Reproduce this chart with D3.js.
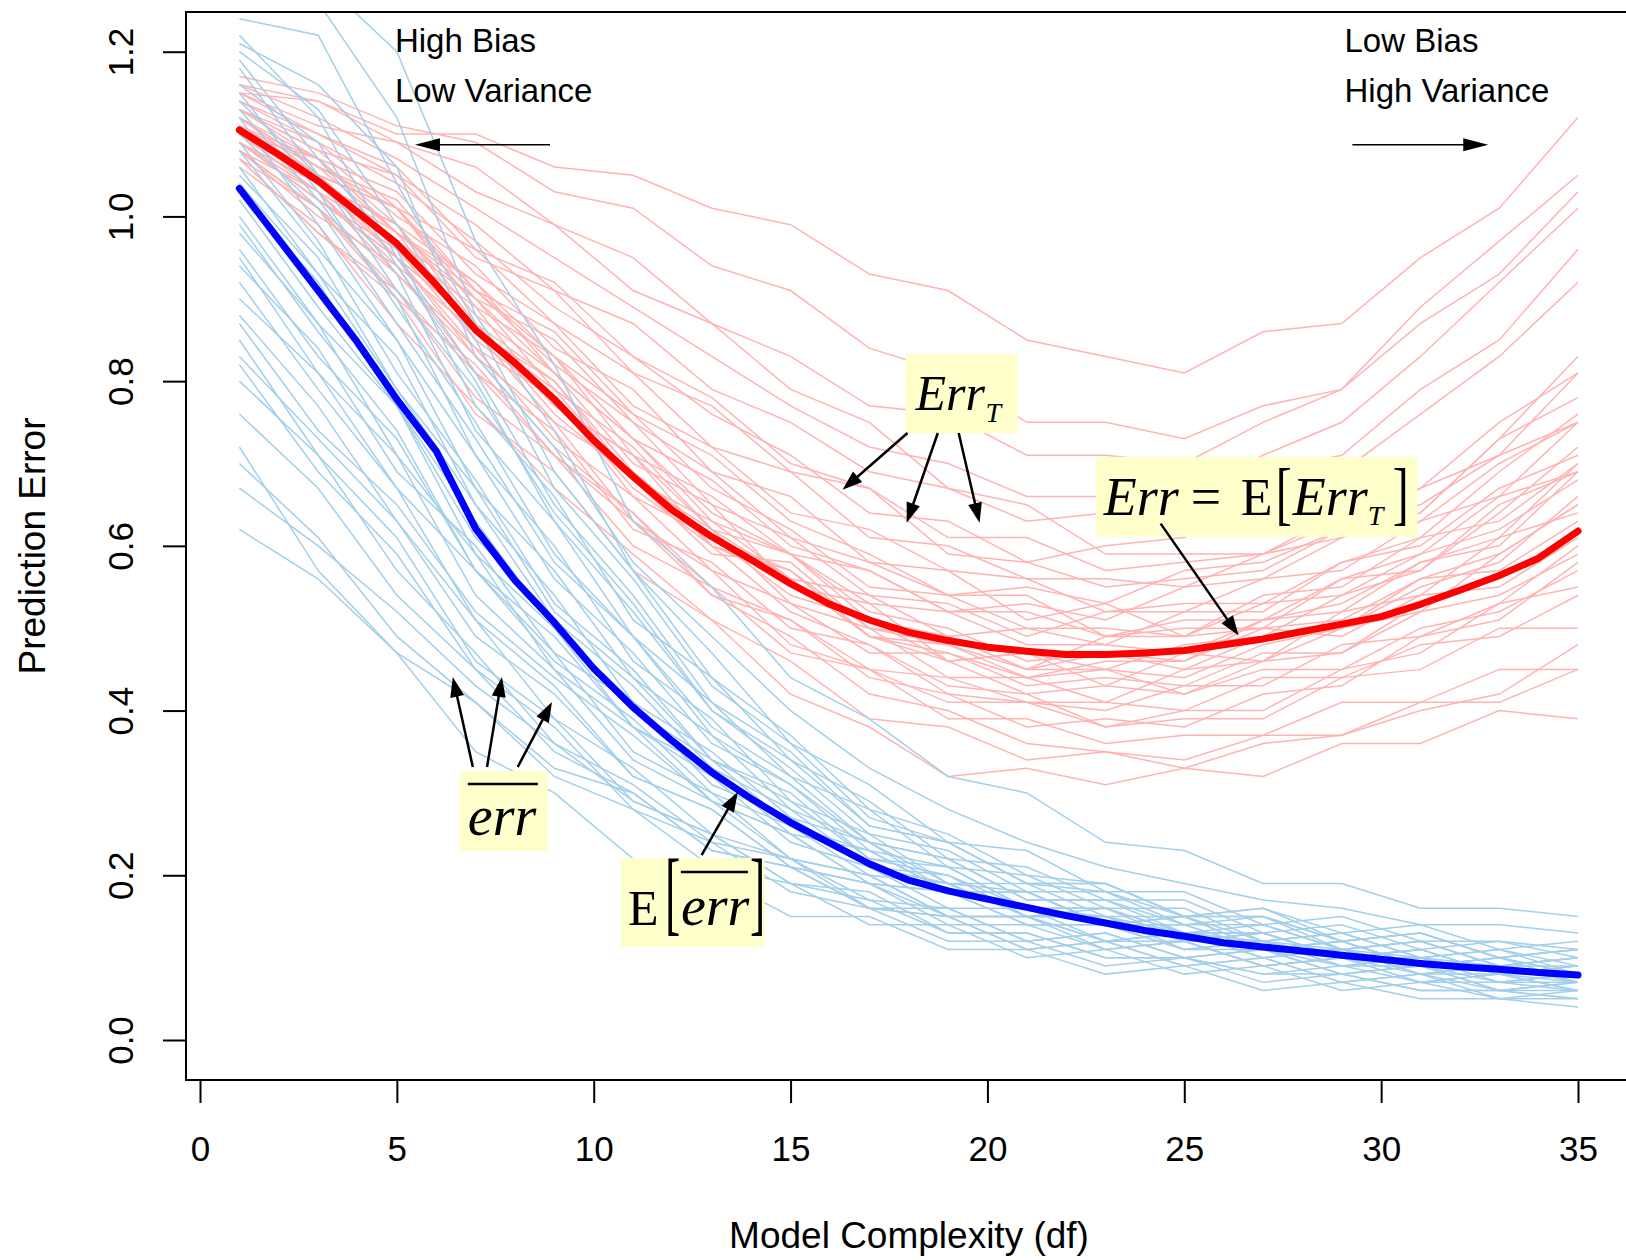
<!DOCTYPE html>
<html>
<head>
<meta charset="utf-8">
<script src="https://cdn.jsdelivr.net/npm/d3@7"></script>
<style>
  body { margin: 0; background: #fff; }
  svg { display: block; }
</style>
</head>
<body>
<div id="chart"></div>
<script>
var w = 1626;
var h = 1260;

// model complexity (df) for the two mean curves
var dfs = [1, 2, 3, 4, 5, 6, 7, 8, 9, 10, 11, 12, 13, 14, 15, 16, 17, 18, 19, 20,
  21, 22, 23, 24, 25, 26, 27, 28, 29, 30, 31, 32, 33, 34, 35];

// expected test error  Err = E[Err_T]  (thick red)
var errMean = [1.105, 1.075, 1.043, 1.005, 0.967, 0.917, 0.862, 0.822, 0.778, 0.728,
  0.684, 0.643, 0.611, 0.583, 0.554, 0.529, 0.510, 0.495, 0.485, 0.477,
  0.472, 0.468, 0.468, 0.470, 0.473, 0.480, 0.487, 0.496, 0.505, 0.514,
  0.529, 0.546, 0.564, 0.585, 0.618];

// expected training error  E[err]  (thick blue)
var trainMean = [1.034, 0.972, 0.910, 0.847, 0.778, 0.715, 0.621, 0.558, 0.507, 0.451,
  0.404, 0.363, 0.325, 0.293, 0.264, 0.239, 0.214, 0.194, 0.181, 0.171,
  0.161, 0.151, 0.142, 0.133, 0.126, 0.118, 0.113, 0.108, 0.103, 0.098,
  0.093, 0.089, 0.086, 0.082, 0.079];

// df values at which the single training-set curves are read
var knots = [1, 3, 5, 7, 9, 11, 13, 15, 17, 19, 21, 23, 25, 27, 29, 31, 33, 35];

// conditional test error Err_T, one row per training sample (light red)
var testCurves = [
  [1.10, 1.04, 0.99, 0.87, 0.80, 0.69, 0.60, 0.57, 0.50, 0.49, 0.45, 0.47, 0.46, 0.50, 0.49, 0.54, 0.55, 0.61],
  [1.13, 1.09, 1.01, 0.96, 0.87, 0.81, 0.72, 0.69, 0.61, 0.60, 0.56, 0.56, 0.55, 0.59, 0.61, 0.67, 0.71, 0.81],
  [1.08, 1.01, 0.91, 0.81, 0.71, 0.63, 0.54, 0.51, 0.45, 0.44, 0.41, 0.41, 0.40, 0.44, 0.44, 0.48, 0.49, 0.54],
  [1.15, 1.10, 1.05, 0.99, 0.91, 0.87, 0.79, 0.75, 0.69, 0.67, 0.63, 0.64, 0.64, 0.69, 0.71, 0.79, 0.85, 0.96],
  [1.09, 1.02, 0.95, 0.83, 0.75, 0.63, 0.57, 0.48, 0.45, 0.39, 0.39, 0.36, 0.37, 0.37, 0.41, 0.41, 0.45, 0.45],
  [1.11, 1.07, 0.98, 0.91, 0.82, 0.75, 0.65, 0.61, 0.54, 0.53, 0.49, 0.52, 0.52, 0.56, 0.57, 0.63, 0.66, 0.75],
  [1.16, 1.14, 1.09, 1.06, 0.99, 0.95, 0.87, 0.83, 0.77, 0.76, 0.71, 0.71, 0.70, 0.75, 0.79, 0.89, 0.97, 1.05],
  [1.07, 0.98, 0.91, 0.78, 0.71, 0.60, 0.55, 0.47, 0.45, 0.41, 0.41, 0.40, 0.43, 0.43, 0.48, 0.49, 0.53, 0.55],
  [1.10, 1.05, 0.95, 0.87, 0.76, 0.68, 0.59, 0.58, 0.50, 0.48, 0.45, 0.49, 0.49, 0.50, 0.51, 0.56, 0.59, 0.65],
  [1.12, 1.06, 1.02, 0.91, 0.86, 0.76, 0.71, 0.63, 0.59, 0.54, 0.54, 0.49, 0.50, 0.50, 0.56, 0.57, 0.65, 0.69],
  [1.06, 0.99, 0.87, 0.77, 0.67, 0.59, 0.51, 0.46, 0.39, 0.38, 0.34, 0.35, 0.34, 0.37, 0.37, 0.41, 0.41, 0.45],
  [1.13, 1.08, 1.05, 0.95, 0.91, 0.81, 0.77, 0.69, 0.67, 0.61, 0.61, 0.57, 0.58, 0.59, 0.64, 0.67, 0.75, 0.81],
  [1.09, 1.03, 0.94, 0.86, 0.75, 0.69, 0.61, 0.57, 0.49, 0.47, 0.43, 0.44, 0.43, 0.47, 0.47, 0.52, 0.54, 0.59],
  [1.15, 1.11, 1.09, 1.03, 0.99, 0.91, 0.87, 0.79, 0.75, 0.67, 0.65, 0.59, 0.59, 0.59, 0.63, 0.65, 0.71, 0.75],
  [1.10, 1.04, 0.98, 0.86, 0.80, 0.68, 0.62, 0.53, 0.50, 0.44, 0.44, 0.41, 0.45, 0.46, 0.50, 0.52, 0.59, 0.65],
  [1.11, 1.05, 0.97, 0.90, 0.79, 0.72, 0.62, 0.59, 0.53, 0.52, 0.48, 0.48, 0.47, 0.51, 0.53, 0.58, 0.60, 0.69],
  [1.08, 1.00, 0.94, 0.81, 0.74, 0.62, 0.58, 0.50, 0.48, 0.43, 0.42, 0.38, 0.39, 0.39, 0.44, 0.45, 0.50, 0.50],
  [1.17, 1.15, 1.11, 1.09, 1.03, 1.01, 0.94, 0.91, 0.84, 0.81, 0.75, 0.75, 0.73, 0.77, 0.79, 0.87, 0.93, 1.03],
  [1.10, 1.07, 0.98, 0.92, 0.81, 0.73, 0.63, 0.59, 0.51, 0.49, 0.45, 0.45, 0.44, 0.48, 0.50, 0.56, 0.57, 0.63],
  [1.12, 1.05, 1.01, 0.90, 0.85, 0.75, 0.69, 0.61, 0.58, 0.54, 0.55, 0.53, 0.57, 0.58, 0.62, 0.63, 0.70, 0.75],
  [1.07, 1.01, 0.90, 0.82, 0.71, 0.64, 0.55, 0.51, 0.44, 0.42, 0.38, 0.39, 0.38, 0.42, 0.43, 0.49, 0.51, 0.58],
  [1.13, 1.07, 1.03, 0.93, 0.87, 0.77, 0.72, 0.64, 0.62, 0.57, 0.56, 0.52, 0.53, 0.53, 0.58, 0.60, 0.67, 0.71],
  [1.09, 1.04, 0.95, 0.87, 0.77, 0.71, 0.62, 0.56, 0.49, 0.48, 0.44, 0.46, 0.46, 0.51, 0.52, 0.58, 0.61, 0.70],
  [1.11, 1.05, 1.01, 0.91, 0.83, 0.71, 0.66, 0.59, 0.57, 0.52, 0.52, 0.49, 0.51, 0.51, 0.56, 0.59, 0.66, 0.69],
  [1.15, 1.14, 1.10, 1.10, 1.06, 1.05, 1.01, 0.99, 0.93, 0.91, 0.85, 0.83, 0.81, 0.86, 0.87, 0.95, 1.01, 1.12],
  [1.10, 1.03, 0.97, 0.86, 0.79, 0.68, 0.63, 0.56, 0.54, 0.49, 0.50, 0.48, 0.52, 0.52, 0.58, 0.61, 0.69, 0.76],
  [1.08, 1.03, 0.93, 0.84, 0.73, 0.66, 0.57, 0.53, 0.47, 0.47, 0.44, 0.45, 0.42, 0.45, 0.45, 0.50, 0.52, 0.57],
  [1.12, 1.06, 1.01, 0.89, 0.83, 0.73, 0.68, 0.60, 0.57, 0.52, 0.53, 0.51, 0.55, 0.56, 0.61, 0.64, 0.73, 0.83],
  [1.07, 0.98, 0.90, 0.76, 0.69, 0.57, 0.51, 0.42, 0.38, 0.32, 0.33, 0.31, 0.33, 0.32, 0.36, 0.36, 0.40, 0.39],
  [1.14, 1.09, 1.04, 0.97, 0.89, 0.83, 0.76, 0.71, 0.64, 0.63, 0.58, 0.60, 0.61, 0.66, 0.69, 0.76, 0.83, 0.92],
  [1.09, 1.02, 0.96, 0.85, 0.78, 0.67, 0.60, 0.52, 0.48, 0.42, 0.41, 0.38, 0.40, 0.40, 0.45, 0.47, 0.53, 0.60],
  [1.13, 1.08, 1.00, 0.94, 0.84, 0.79, 0.69, 0.66, 0.58, 0.57, 0.51, 0.53, 0.49, 0.54, 0.55, 0.61, 0.63, 0.70],
  [1.11, 1.04, 0.99, 0.88, 0.81, 0.70, 0.65, 0.55, 0.53, 0.46, 0.47, 0.43, 0.47, 0.46, 0.52, 0.54, 0.61, 0.64],
  [1.16, 1.12, 1.07, 1.01, 0.95, 0.89, 0.83, 0.77, 0.72, 0.70, 0.66, 0.66, 0.66, 0.71, 0.75, 0.83, 0.92, 1.01],
  [1.08, 1.01, 0.93, 0.83, 0.72, 0.64, 0.54, 0.49, 0.42, 0.40, 0.36, 0.35, 0.33, 0.36, 0.37, 0.40, 0.42, 0.48],
  [1.12, 1.07, 0.99, 0.92, 0.83, 0.76, 0.67, 0.62, 0.55, 0.54, 0.50, 0.50, 0.49, 0.53, 0.54, 0.59, 0.62, 0.68],
  [1.10, 1.05, 0.96, 0.89, 0.77, 0.71, 0.60, 0.56, 0.49, 0.46, 0.42, 0.43, 0.42, 0.46, 0.47, 0.53, 0.56, 0.62],
  [1.14, 1.10, 1.06, 0.96, 0.92, 0.83, 0.78, 0.70, 0.67, 0.59, 0.58, 0.55, 0.56, 0.57, 0.62, 0.64, 0.73, 0.78],
  [1.09, 1.02, 0.95, 0.84, 0.78, 0.66, 0.61, 0.54, 0.51, 0.46, 0.47, 0.45, 0.48, 0.49, 0.54, 0.57, 0.64, 0.72],
  [1.11, 1.06, 0.98, 0.90, 0.81, 0.73, 0.64, 0.59, 0.52, 0.50, 0.46, 0.47, 0.45, 0.49, 0.50, 0.55, 0.58, 0.66]
];

// training error err-bar, one row per training sample (light blue)
var trainCurves = [
  [1.03, 0.92, 0.77, 0.63, 0.50, 0.41, 0.31, 0.27, 0.21, 0.19, 0.15, 0.15, 0.12, 0.12, 0.10, 0.10, 0.08, 0.08],
  [1.22, 1.12, 0.95, 0.81, 0.65, 0.54, 0.41, 0.35, 0.26, 0.24, 0.19, 0.19, 0.15, 0.15, 0.12, 0.13, 0.10, 0.11],
  [0.85, 0.71, 0.61, 0.46, 0.39, 0.29, 0.25, 0.19, 0.17, 0.13, 0.13, 0.10, 0.10, 0.08, 0.09, 0.07, 0.07, 0.06],
  [1.15, 1.03, 0.89, 0.75, 0.59, 0.49, 0.37, 0.31, 0.24, 0.22, 0.17, 0.17, 0.14, 0.14, 0.11, 0.12, 0.09, 0.10],
  [0.95, 0.81, 0.71, 0.54, 0.45, 0.34, 0.29, 0.22, 0.20, 0.15, 0.15, 0.12, 0.12, 0.09, 0.10, 0.08, 0.08, 0.07],
  [1.27, 1.26, 1.12, 0.88, 0.74, 0.57, 0.47, 0.36, 0.31, 0.24, 0.23, 0.18, 0.18, 0.14, 0.15, 0.12, 0.12, 0.11],
  [0.70, 0.61, 0.49, 0.41, 0.32, 0.28, 0.21, 0.19, 0.14, 0.14, 0.10, 0.11, 0.08, 0.09, 0.06, 0.07, 0.05, 0.05],
  [1.08, 0.96, 0.85, 0.67, 0.57, 0.44, 0.37, 0.28, 0.24, 0.18, 0.18, 0.14, 0.15, 0.11, 0.12, 0.09, 0.10, 0.08],
  [0.90, 0.81, 0.67, 0.57, 0.46, 0.39, 0.30, 0.26, 0.20, 0.19, 0.15, 0.15, 0.11, 0.12, 0.09, 0.10, 0.07, 0.08],
  [1.18, 1.05, 0.93, 0.74, 0.63, 0.49, 0.41, 0.32, 0.28, 0.21, 0.20, 0.16, 0.16, 0.12, 0.13, 0.10, 0.11, 0.09],
  [1.00, 0.87, 0.71, 0.59, 0.45, 0.38, 0.29, 0.25, 0.19, 0.18, 0.14, 0.14, 0.11, 0.12, 0.09, 0.10, 0.07, 0.08],
  [0.62, 0.56, 0.47, 0.41, 0.33, 0.30, 0.23, 0.21, 0.16, 0.16, 0.12, 0.13, 0.10, 0.11, 0.08, 0.09, 0.06, 0.07],
  [1.12, 0.99, 0.85, 0.71, 0.56, 0.47, 0.36, 0.31, 0.23, 0.21, 0.16, 0.16, 0.13, 0.13, 0.10, 0.11, 0.08, 0.09],
  [1.24, 1.22, 1.04, 0.87, 0.69, 0.57, 0.44, 0.37, 0.28, 0.25, 0.20, 0.19, 0.15, 0.16, 0.12, 0.13, 0.10, 0.11],
  [0.98, 0.87, 0.77, 0.61, 0.51, 0.40, 0.34, 0.26, 0.23, 0.18, 0.18, 0.14, 0.14, 0.11, 0.12, 0.09, 0.10, 0.08],
  [0.80, 0.71, 0.57, 0.47, 0.36, 0.31, 0.24, 0.22, 0.17, 0.16, 0.12, 0.13, 0.10, 0.11, 0.08, 0.09, 0.06, 0.07],
  [1.06, 0.93, 0.83, 0.65, 0.54, 0.41, 0.35, 0.27, 0.24, 0.19, 0.19, 0.15, 0.15, 0.12, 0.13, 0.10, 0.11, 0.08],
  [1.20, 1.13, 0.99, 0.85, 0.67, 0.56, 0.43, 0.36, 0.27, 0.24, 0.19, 0.18, 0.14, 0.15, 0.11, 0.12, 0.09, 0.10],
  [0.92, 0.79, 0.67, 0.51, 0.43, 0.32, 0.28, 0.21, 0.19, 0.14, 0.14, 0.11, 0.12, 0.09, 0.10, 0.07, 0.08, 0.06],
  [1.10, 1.01, 0.87, 0.73, 0.58, 0.49, 0.38, 0.32, 0.24, 0.22, 0.17, 0.17, 0.13, 0.14, 0.11, 0.12, 0.09, 0.10],
  [0.88, 0.77, 0.63, 0.51, 0.39, 0.33, 0.25, 0.22, 0.16, 0.15, 0.11, 0.12, 0.09, 0.10, 0.07, 0.08, 0.05, 0.06],
  [1.26, 1.29, 1.20, 0.97, 0.82, 0.63, 0.55, 0.44, 0.39, 0.32, 0.30, 0.24, 0.23, 0.19, 0.19, 0.16, 0.16, 0.15],
  [1.02, 0.89, 0.77, 0.59, 0.50, 0.38, 0.32, 0.24, 0.21, 0.16, 0.16, 0.12, 0.13, 0.10, 0.11, 0.08, 0.09, 0.07],
  [0.76, 0.67, 0.54, 0.45, 0.35, 0.30, 0.23, 0.21, 0.16, 0.15, 0.11, 0.12, 0.09, 0.10, 0.07, 0.08, 0.06, 0.06],
  [1.14, 1.05, 0.91, 0.79, 0.64, 0.53, 0.40, 0.33, 0.25, 0.23, 0.18, 0.18, 0.15, 0.15, 0.12, 0.13, 0.10, 0.11],
  [0.96, 0.83, 0.73, 0.57, 0.49, 0.38, 0.33, 0.25, 0.23, 0.18, 0.18, 0.14, 0.15, 0.11, 0.12, 0.09, 0.10, 0.07],
  [1.04, 0.93, 0.79, 0.65, 0.51, 0.43, 0.33, 0.28, 0.21, 0.19, 0.15, 0.15, 0.12, 0.13, 0.10, 0.11, 0.08, 0.09],
  [0.83, 0.73, 0.63, 0.49, 0.42, 0.32, 0.28, 0.21, 0.19, 0.15, 0.15, 0.12, 0.13, 0.10, 0.11, 0.08, 0.09, 0.07],
  [1.16, 1.09, 0.94, 0.80, 0.63, 0.52, 0.40, 0.34, 0.26, 0.24, 0.19, 0.19, 0.15, 0.16, 0.13, 0.14, 0.11, 0.12],
  [0.99, 0.86, 0.74, 0.57, 0.47, 0.35, 0.30, 0.22, 0.20, 0.15, 0.15, 0.11, 0.12, 0.09, 0.10, 0.07, 0.08, 0.06],
  [0.72, 0.57, 0.47, 0.35, 0.30, 0.22, 0.20, 0.15, 0.15, 0.11, 0.11, 0.08, 0.09, 0.06, 0.07, 0.05, 0.05, 0.04],
  [1.21, 1.16, 1.06, 0.83, 0.72, 0.58, 0.49, 0.40, 0.33, 0.28, 0.24, 0.21, 0.19, 0.17, 0.16, 0.14, 0.14, 0.13],
  [0.87, 0.74, 0.65, 0.52, 0.44, 0.37, 0.29, 0.25, 0.19, 0.18, 0.14, 0.14, 0.11, 0.11, 0.09, 0.09, 0.07, 0.07],
  [1.09, 0.97, 0.81, 0.68, 0.53, 0.45, 0.34, 0.30, 0.22, 0.21, 0.16, 0.16, 0.13, 0.13, 0.10, 0.11, 0.08, 0.09],
  [0.67, 0.60, 0.52, 0.43, 0.36, 0.29, 0.25, 0.19, 0.18, 0.13, 0.13, 0.10, 0.10, 0.08, 0.08, 0.06, 0.06, 0.05],
  [1.13, 1.02, 0.90, 0.71, 0.60, 0.46, 0.39, 0.29, 0.25, 0.19, 0.18, 0.14, 0.14, 0.11, 0.11, 0.09, 0.09, 0.08],
  [0.94, 0.84, 0.69, 0.60, 0.47, 0.41, 0.31, 0.27, 0.21, 0.20, 0.15, 0.16, 0.12, 0.13, 0.10, 0.11, 0.08, 0.09],
  [1.19, 1.07, 0.96, 0.77, 0.66, 0.51, 0.44, 0.34, 0.29, 0.22, 0.21, 0.17, 0.17, 0.13, 0.14, 0.11, 0.12, 0.10],
  [0.82, 0.69, 0.59, 0.45, 0.38, 0.28, 0.24, 0.18, 0.16, 0.12, 0.12, 0.09, 0.10, 0.07, 0.08, 0.06, 0.06, 0.05],
  [1.05, 0.95, 0.79, 0.67, 0.52, 0.44, 0.34, 0.29, 0.22, 0.20, 0.16, 0.15, 0.13, 0.12, 0.11, 0.10, 0.09, 0.09]
];

var xTicks = [0, 5, 10, 15, 20, 25, 30, 35];
var yTicks = [0, 0.2, 0.4, 0.6, 0.8, 1.0, 1.2];
var yTickLabels = ["0.0", "0.2", "0.4", "0.6", "0.8", "1.0", "1.2"];

var sans = "'Liberation Sans', Arial, Helvetica, sans-serif";
var serif = "'Liberation Serif', 'Times New Roman', Times, serif";

var svg = d3
  .select("#chart")
  .append("svg")
  .attr("width", w)
  .attr("height", h);

// Define scales
var xScale = d3.scaleLinear().domain([0, 35]).range([200, 1578]);
var yScale = d3.scaleLinear().domain([0, 1.2]).range([1040, 51.7]);

var box = { left: 186, top: 12, bottom: 1080 };

svg
  .append("clipPath")
  .attr("id", "plotclip")
  .append("rect")
  .attr("x", box.left)
  .attr("y", box.top)
  .attr("width", w - box.left)
  .attr("height", box.bottom - box.top);

var line = d3
  .line()
  .x(function (d) {
    return xScale(d[0]);
  })
  .y(function (d) {
    return yScale(d[1]);
  });

var plot = svg.append("g").attr("clip-path", "url(#plotclip)");

// thin curves, one per training sample
plot
  .selectAll("path.test")
  .data(testCurves)
  .enter()
  .append("path")
  .attr("class", "test")
  .attr("d", function (row) {
    return line(d3.zip(knots, row));
  })
  .attr("fill", "none")
  .attr("stroke", "#ffb4b4")
  .attr("stroke-width", 1.5);

plot
  .selectAll("path.train")
  .data(trainCurves)
  .enter()
  .append("path")
  .attr("class", "train")
  .attr("d", function (row) {
    return line(d3.zip(knots, row));
  })
  .attr("fill", "none")
  .attr("stroke", "#a3cfea")
  .attr("stroke-width", 1.5);

// averages
plot
  .append("path")
  .attr("d", line(d3.zip(dfs, errMean)))
  .attr("fill", "none")
  .attr("stroke", "#ff0000")
  .attr("stroke-width", 7)
  .attr("stroke-linecap", "round")
  .attr("stroke-linejoin", "round");

plot
  .append("path")
  .attr("d", line(d3.zip(dfs, trainMean)))
  .attr("fill", "none")
  .attr("stroke", "#0000ff")
  .attr("stroke-width", 7)
  .attr("stroke-linecap", "round")
  .attr("stroke-linejoin", "round");

// frame
svg
  .append("rect")
  .attr("x", box.left)
  .attr("y", box.top)
  .attr("width", w - box.left + 20)
  .attr("height", box.bottom - box.top)
  .attr("fill", "none")
  .attr("stroke", "#000")
  .attr("stroke-width", 2);

// x axis
var xAxis = svg
  .append("g")
  .attr("transform", "translate(0," + box.bottom + ")")
  .call(d3.axisBottom(xScale).tickValues(xTicks).tickSize(23).tickPadding(33));
xAxis.select(".domain").remove();
xAxis.selectAll("line").attr("stroke-width", 2);
xAxis
  .selectAll("text")
  .attr("font-family", sans)
  .attr("font-size", 35)
  .attr("fill", "#000");

// y axis, labels turned like base R graphics
var yAxis = svg
  .append("g")
  .attr("transform", "translate(" + box.left + ",0)")
  .call(
    d3
      .axisLeft(yScale)
      .tickValues(yTicks)
      .tickSize(23)
      .tickFormat(function (d, i) {
        return yTickLabels[i];
      })
  );
yAxis.select(".domain").remove();
yAxis.selectAll("line").attr("stroke-width", 2);
yAxis
  .selectAll("text")
  .attr("x", 0)
  .attr("dy", 0)
  .attr("text-anchor", "middle")
  .attr("transform", "translate(-53,0) rotate(-90)")
  .attr("font-family", sans)
  .attr("font-size", 35)
  .attr("fill", "#000");

// axis titles
svg
  .append("text")
  .attr("x", 909)
  .attr("y", 1248)
  .attr("text-anchor", "middle")
  .attr("font-family", sans)
  .attr("font-size", 37)
  .text("Model Complexity (df)");

svg
  .append("text")
  .attr("transform", "translate(45,546) rotate(-90)")
  .attr("text-anchor", "middle")
  .attr("font-family", sans)
  .attr("font-size", 37)
  .text("Prediction Error");

// arrows
function arrow(x1, y1, x2, y2, lw, hl, hw) {
  var dx = x2 - x1;
  var dy = y2 - y1;
  var len = Math.sqrt(dx * dx + dy * dy);
  var ux = dx / len;
  var uy = dy / len;
  var bx = x2 - ux * hl;
  var by = y2 - uy * hl;
  svg
    .append("line")
    .attr("x1", x1)
    .attr("y1", y1)
    .attr("x2", bx + ux * 2)
    .attr("y2", by + uy * 2)
    .attr("stroke", "#000")
    .attr("stroke-width", lw);
  svg
    .append("polygon")
    .attr(
      "points",
      [
        [x2, y2],
        [bx - uy * hw, by + ux * hw],
        [bx + uy * hw, by - ux * hw]
      ].join(" ")
    )
    .attr("fill", "#000");
}

function dataArrow(a, b, lw, hl, hw) {
  arrow(xScale(a[0]), yScale(a[1]), xScale(b[0]), yScale(b[1]), lw, hl, hw);
}

// High Bias / Low Variance  and  Low Bias / High Variance
var corner = svg
  .append("g")
  .attr("font-family", sans)
  .attr("font-size", 33)
  .attr("fill", "#000");
corner.append("text").attr("x", xScale(4.95)).attr("y", 52).text("High Bias");
corner.append("text").attr("x", xScale(4.95)).attr("y", 102).text("Low Variance");
corner.append("text").attr("x", xScale(29.07)).attr("y", 52).text("Low Bias");
corner.append("text").attr("x", xScale(29.07)).attr("y", 102).text("High Variance");

dataArrow([8.89, 1.087], [5.46, 1.087], 1.5, 25, 6.5);
dataArrow([29.27, 1.087], [32.72, 1.087], 1.5, 25, 6.5);

// yellow formula boxes
function labelBox(x0, x1, v0, v1) {
  var g = svg.append("g").attr("transform", "translate(" + xScale(x0) + "," + yScale(v0) + ")");
  g.append("rect")
    .attr("width", xScale(x1) - xScale(x0))
    .attr("height", yScale(v1) - yScale(v0))
    .attr("fill", "#ffffcc");
  return g;
}

function put(g, x, y, size, italic, s) {
  g.append("text")
    .attr("x", x)
    .attr("y", y)
    .attr("font-family", serif)
    .attr("font-size", size)
    .attr("font-style", italic ? "italic" : "normal")
    .attr("fill", "#000")
    .text(s);
}

// tall square bracket: normal glyph stretched upward
function bracket(g, x, y, size, stretch, s) {
  g.append("text")
    .attr("transform", "translate(" + x + "," + y + ") scale(1," + stretch + ")")
    .attr("font-family", serif)
    .attr("font-size", size)
    .attr("fill", "#000")
    .text(s);
}

function overline(g, x1, x2, y) {
  g.append("line")
    .attr("x1", x1)
    .attr("x2", x2)
    .attr("y1", y)
    .attr("y2", y)
    .attr("stroke", "#000")
    .attr("stroke-width", 2.5);
}

// Err_T
var bT = labelBox(17.92, 20.77, 0.833, 0.737);
put(bT, 10, 56, 50, true, "Err");
put(bT, 80, 68, 28, true, "T");

// Err = E[Err_T]
var bE = labelBox(22.75, 30.92, 0.708, 0.611);
put(bE, 8, 58, 54, true, "Err");
put(bE, 95, 58, 54, false, "=");
put(bE, 145, 58, 52, false, "E");
bracket(bE, 180, 60, 48, 1.45, "[");
put(bE, 197, 58, 54, true, "Err");
put(bE, 272, 68, 28, true, "T");
bracket(bE, 297, 60, 48, 1.45, "]");

// err-bar
var bErr = labelBox(6.6, 8.83, 0.3267, 0.2295);
put(bErr, 8, 64, 56, true, "err");
overline(bErr, 8, 78, 13);

// E[err-bar]
var bEE = labelBox(10.69, 14.34, 0.221, 0.113);
put(bEE, 7, 67, 50, false, "E");
bracket(bEE, 44, 66, 46, 2.02, "[");
put(bEE, 60, 67, 56, true, "err");
overline(bEE, 60, 127, 14);
bracket(bEE, 129, 66, 46, 2.02, "]");

// annotation arrows
dataArrow([17.97, 0.737], [16.32, 0.668], 2.5, 20, 7);
dataArrow([18.74, 0.737], [17.95, 0.628], 2.5, 20, 7);
dataArrow([19.27, 0.737], [19.8, 0.628], 2.5, 20, 7);
dataArrow([24.4, 0.627], [26.38, 0.491], 2.5, 20, 7);
dataArrow([6.93, 0.3315], [6.42, 0.4408], 2.5, 20, 7);
dataArrow([7.29, 0.3315], [7.67, 0.4408], 2.5, 20, 7);
dataArrow([8.07, 0.3315], [8.94, 0.4104], 2.5, 20, 7);
dataArrow([12.74, 0.2246], [13.66, 0.3012], 2.5, 20, 7);
</script>
</body>
</html>
